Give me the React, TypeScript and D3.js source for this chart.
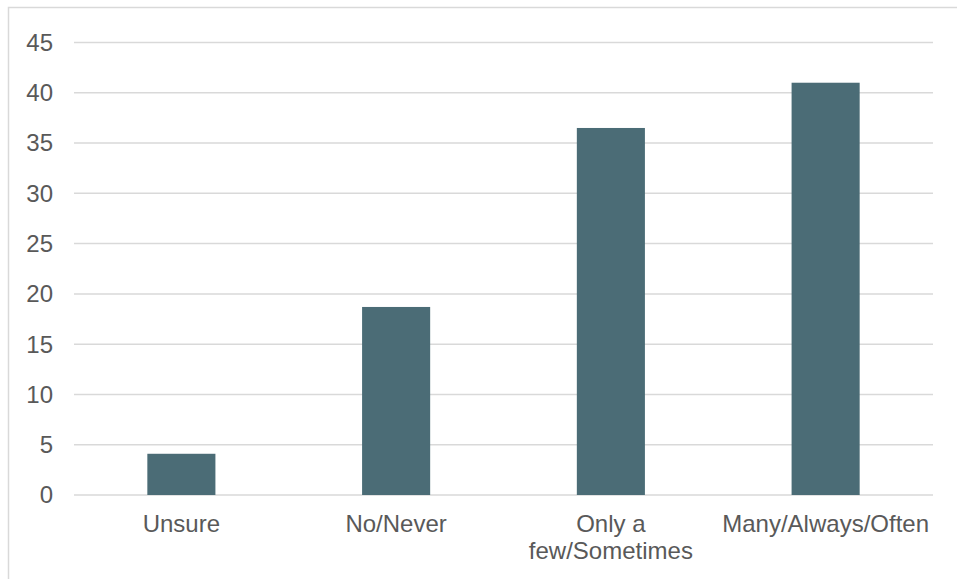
import React, { useEffect, useRef } from "react";
import * as d3 from "d3";

const categories = ["Unsure", "No/Never", "Only a few/Sometimes", "Many/Always/Often"];
const values = [4.1, 18.7, 36.5, 41.0];
const yTicks = [0, 5, 10, 15, 20, 25, 30, 35, 40, 45];

const W = 957;
const H = 579;
const FONT = "'Liberation Sans', Arial, sans-serif";
const FONT_SIZE = 24;
const TEXT = "#595959";
const GRID = "#d9d9d9";
const BAR = "#4b6c76";

function wrapLabel(text: string, maxWidth: number): string[] {
  const ctx = document.createElement("canvas").getContext("2d");
  if (!ctx) return [text];
  ctx.font = `${FONT_SIZE}px ${FONT}`;
  if (ctx.measureText(text).width <= maxWidth) return [text];
  const words = text.split(" ");
  const lines: string[] = [];
  let cur = "";
  for (const w of words) {
    const next = cur ? cur + " " + w : w;
    if (cur && ctx.measureText(next).width > maxWidth) {
      lines.push(cur);
      cur = w;
    } else {
      cur = next;
    }
  }
  if (cur) lines.push(cur);
  return lines;
}

export default function App() {
  const ref = useRef<SVGSVGElement | null>(null);

  useEffect(() => {
    const svg = d3.select(ref.current);
    svg.selectAll("*").remove();

    const x = d3
      .scaleBand<string>()
      .domain(categories)
      .range([74, 933])
      .paddingInner(0.683)
      .paddingOuter(0.3415);
    const y = d3.scaleLinear().domain([0, 45]).range([495, 42.5]);

    // chart frame
    svg
      .append("rect")
      .attr("x", 8.5)
      .attr("y", 7.5)
      .attr("width", W)
      .attr("height", H)
      .attr("fill", "#fff")
      .attr("stroke", GRID)
      .attr("stroke-width", 1.5);

    // horizontal gridlines
    svg
      .append("g")
      .selectAll("line")
      .data(yTicks)
      .join("line")
      .attr("x1", 74)
      .attr("x2", 933)
      .attr("y1", (d) => y(d))
      .attr("y2", (d) => y(d))
      .attr("stroke", GRID)
      .attr("stroke-width", 1.5);

    // y tick labels
    svg
      .append("g")
      .selectAll("text")
      .data(yTicks)
      .join("text")
      .attr("x", 53)
      .attr("y", (d) => y(d))
      .attr("dy", "0.35em")
      .attr("text-anchor", "end")
      .attr("font-family", FONT)
      .attr("font-size", FONT_SIZE)
      .attr("fill", TEXT)
      .text((d) => String(d));

    // bars
    svg
      .append("g")
      .selectAll("rect")
      .data(categories)
      .join("rect")
      .attr("x", (d) => x(d) as number)
      .attr("width", x.bandwidth())
      .attr("y", (_d, i) => y(values[i]))
      .attr("height", (_d, i) => y(0) - y(values[i]))
      .attr("fill", BAR);

    // category labels
    const labels = svg
      .append("g")
      .selectAll("text")
      .data(categories)
      .join("text")
      .attr("x", (d) => (x(d) as number) + x.bandwidth() / 2)
      .attr("y", 532)
      .attr("text-anchor", "middle")
      .attr("font-family", FONT)
      .attr("font-size", FONT_SIZE)
      .attr("fill", TEXT);

    labels.each(function (d) {
      const lines = wrapLabel(d, x.step() - 6);
      const t = d3.select(this);
      const cx = (x(d) as number) + x.bandwidth() / 2;
      lines.forEach((line, i) => {
        t.append("tspan")
          .attr("x", cx)
          .attr("dy", i === 0 ? 0 : 27)
          .text(line);
      });
    });
  }, []);

  return (
    <div style={{ position: "fixed", left: 0, top: 0 }}>
      <svg ref={ref} width={W} height={H} style={{ display: "block" }} />
    </div>
  );
}
